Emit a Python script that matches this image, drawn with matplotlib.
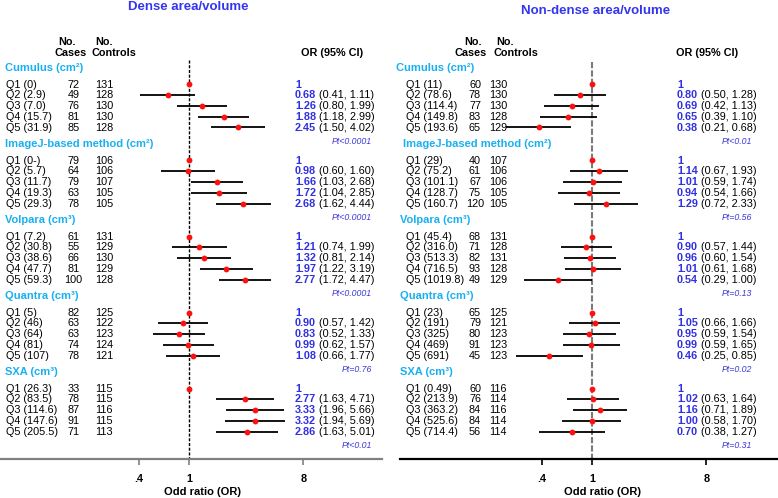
import numpy as np
import matplotlib
matplotlib.use("Agg")
import matplotlib.pyplot as plt
import matplotlib.transforms as mtransforms

plt.rcParams['font.family'] = ['Liberation Sans', 'DejaVu Sans']

# ---------------- data ----------------
groups = ["Cumulus (cm²)", "ImageJ-based method (cm²)", "Volpara (cm³)",
          "Quantra (cm³)", "SXA (cm³)"]

dense_q = [["Q1 (0)", "Q2 (2.9)", "Q3 (7.0)", "Q4 (15.7)", "Q5 (31.9)"],
           ["Q1 (0-)", "Q2 (5.7)", "Q3 (11.7)", "Q4 (19.3)", "Q5 (29.3)"],
           ["Q1 (7.2)", "Q2 (30.8)", "Q3 (38.6)", "Q4 (47.7)", "Q5 (59.3)"],
           ["Q1 (5)", "Q2 (46)", "Q3 (64)", "Q4 (81)", "Q5 (107)"],
           ["Q1 (26.3)", "Q2 (83.5)", "Q3 (114.6)", "Q4 (147.6)", "Q5 (205.5)"]]
dense_cases = [[72, 49, 76, 81, 85], [79, 64, 79, 63, 78], [61, 55, 66, 81, 100],
               [82, 63, 63, 74, 78], [33, 78, 87, 91, 71]]
dense_controls = [[131, 128, 130, 130, 128], [106, 106, 107, 105, 105],
                  [131, 129, 130, 129, 128], [125, 122, 123, 124, 121],
                  [115, 115, 116, 115, 113]]
dense_or = [[1, 0.68, 1.26, 1.88, 2.45], [1, 0.98, 1.66, 1.72, 2.68],
            [1, 1.21, 1.32, 1.97, 2.77], [1, 0.90, 0.83, 0.99, 1.08],
            [1, 2.77, 3.33, 3.32, 2.86]]
dense_lo = [[None, 0.41, 0.80, 1.18, 1.50], [None, 0.60, 1.03, 1.04, 1.62],
            [None, 0.74, 0.81, 1.22, 1.72], [None, 0.57, 0.52, 0.62, 0.66],
            [None, 1.63, 1.96, 1.94, 1.63]]
dense_hi = [[None, 1.11, 1.99, 2.99, 4.02], [None, 1.60, 2.68, 2.85, 4.44],
            [None, 1.99, 2.14, 3.19, 4.47], [None, 1.42, 1.33, 1.57, 1.77],
            [None, 4.71, 5.66, 5.69, 5.01]]
dense_pt = ["Pt<0.0001", "Pt<0.0001", "Pt<0.0001", "Pt=0.76", "Pt<0.01"]

nond_q = [["Q1 (11)", "Q2 (78.6)", "Q3 (114.4)", "Q4 (149.8)", "Q5 (193.6)"],
          ["Q1 (29)", "Q2 (75.2)", "Q3 (101.1)", "Q4 (128.7)", "Q5 (160.7)"],
          ["Q1 (45.4)", "Q2 (316.0)", "Q3 (513.3)", "Q4 (716.5)", "Q5 (1019.8)"],
          ["Q1 (23)", "Q2 (191)", "Q3 (325)", "Q4 (469)", "Q5 (691)"],
          ["Q1 (0.49)", "Q2 (213.9)", "Q3 (363.2)", "Q4 (525.6)", "Q5 (714.4)"]]
nond_cases = [[60, 78, 77, 83, 65], [40, 61, 67, 75, 120], [68, 71, 82, 93, 49],
              [65, 79, 80, 91, 45], [60, 76, 84, 84, 56]]
nond_controls = [[130, 130, 130, 128, 129], [107, 106, 106, 105, 105],
                 [131, 128, 131, 128, 129], [125, 121, 123, 123, 123],
                 [116, 114, 116, 114, 114]]
nond_or = [[1, 0.80, 0.69, 0.65, 0.38], [1, 1.14, 1.01, 0.94, 1.29],
           [1, 0.90, 0.96, 1.01, 0.54], [1, 1.05, 0.95, 0.99, 0.46],
           [1, 1.02, 1.16, 1.00, 0.70]]
nond_lo = [[None, 0.50, 0.42, 0.39, 0.21], [None, 0.67, 0.59, 0.54, 0.72],
           [None, 0.57, 0.60, 0.61, 0.29], [None, 0.66, 0.59, 0.59, 0.25],
           [None, 0.63, 0.71, 0.58, 0.38]]
nond_hi = [[None, 1.28, 1.13, 1.10, 0.68], [None, 1.93, 1.74, 1.66, 2.33],
           [None, 1.44, 1.54, 1.68, 1.00], [None, 1.66, 1.54, 1.65, 0.85],
           [None, 1.64, 1.89, 1.70, 1.27]]
nond_pt = ["Pt<0.01", "Pt=0.56", "Pt=0.13", "Pt=0.02", "Pt=0.31"]

tick_vals = [0.4, 1, 8]
tick_labels = [".4", "1", "8"]

# ---------------- style ----------------
W, H = 778, 498
TITLE_C = '#3535f0'
HEAD_C = '#18b0f0'
OR_C = '#3030e0'
PT_C = '#3a3ad8'
FS = 7.8

fig = plt.figure(figsize=(W / 100, H / 100), dpi=100)
AXIS_Y = 459


def panel(x0, x1, one_px, title, title_y, q, cases, controls, ors, los, his, pts,
          cfg):
    ax = fig.add_axes([x0 / W, (H - AXIS_Y) / H, (x1 - x0) / W, AXIS_Y / H])
    ax.set_xscale('log')
    dec = 126.5
    ax.set_xlim(10 ** (-(one_px - x0) / dec), 10 ** ((x1 - one_px) / dec))
    ax.set_ylim(AXIS_Y, 0)
    ax.patch.set_alpha(0)
    for s in ['top', 'left', 'right']:
        ax.spines[s].set_visible(False)
    ax.spines['bottom'].set_color(cfg['axis_c'])
    ax.spines['bottom'].set_linewidth(1.6)
    ax.set_yticks([])
    ax.xaxis.set_minor_locator(matplotlib.ticker.NullLocator())
    ax.set_xticks(tick_vals)
    ax.set_xticklabels(tick_labels, fontweight='bold', fontsize=7.8)
    ax.tick_params(axis='x', length=4, width=1.2, color=cfg['axis_c'], pad=7)

    tr = mtransforms.blended_transform_factory(fig.transFigure, ax.transData)

    def T(xpx, y, s, **kw):
        kw.setdefault('fontsize', FS)
        kw.setdefault('va', 'center')
        ax.text(xpx / W, y, s, transform=tr, clip_on=False, **kw)

    # titles
    fig.text(cfg['title_cx'] / W, 1 - title_y / H, title, ha='center', va='center',
             fontsize=9.5, fontweight='bold', color=TITLE_C)
    T(cfg['no_cases_cx'], 42, "No.", ha='center', fontweight='bold')
    T(cfg['cases_hdr_cx'], 53, "Cases", ha='center', fontweight='bold')
    T(cfg['no_ctrl_x'], 42, "No.", ha='left', fontweight='bold')
    T(cfg['ctrl_hdr_x'], 53, "Controls", ha='left', fontweight='bold')
    T(cfg['or_hdr_cx'], 53, "OR (95% CI)", ha='center', fontweight='bold')

    ax.vlines(1, cfg['vline_top'], AXIS_Y, colors=cfg['vline_c'],
              linestyles=cfg['vline_ls'], linewidth=cfg['vline_lw'], zorder=1)

    for g in range(len(groups)):
        hy = 68 + 76 * g
        T(cfg['head_x'][g], hy, groups[g], ha='left', fontweight='bold',
          color=HEAD_C, fontsize=8.0)
        for i in range(5):
            y = hy + 16.5 + i * 10.75
            T(cfg['q_x'], y, q[g][i], ha='left')
            T(cfg['cases_cx'], y, str(cases[g][i]), ha='center')
            T(cfg['ctrl_cx'], y, str(controls[g][i]), ha='center')
            if los[g][i] is None:
                T(cfg['or_x'], y, "1", ha='left', fontweight='bold', color=OR_C)
            else:
                T(cfg['or_x'], y, f"{ors[g][i]:.2f}", ha='left', fontweight='bold',
                  color=OR_C)
                T(cfg['ci_x'], y, f"({los[g][i]:.2f}, {his[g][i]:.2f})", ha='left')
                ax.hlines(y, los[g][i], his[g][i], colors='black', linewidth=1.3,
                          zorder=2)
            ax.plot([ors[g][i]], [y], 'o', color='#ff1010', markersize=4.2,
                    markeredgewidth=0, zorder=3)
        T(cfg['pt_x'], hy + 16.5 + 4 * 10.75 + 13.5, pts[g], ha='right',
          style='italic', color=PT_C, fontsize=6.3)

    fig.text(cfg['xlabel_cx'] / W, 1 - 492 / H, "Odd ratio (OR)", ha='center',
             va='center', fontsize=8.0, fontweight='bold')
    return ax


left_cfg = dict(axis_c='#808080', title_cx=188, no_cases_cx=67, cases_hdr_cx=71,
                no_ctrl_x=95, ctrl_hdr_x=92, or_hdr_cx=332, vline_top=60,
                vline_c='black', vline_ls=(0, (2.2, 1.2)), vline_lw=1.0,
                head_x=[5, 5, 5, 5, 5], q_x=6, cases_cx=73.5, ctrl_cx=104,
                or_x=295, ci_x=319, pt_x=372, xlabel_cx=202)
right_cfg = dict(axis_c='black', title_cx=596, no_cases_cx=473, cases_hdr_cx=471,
                 no_ctrl_x=496, ctrl_hdr_x=494, or_hdr_cx=707, vline_top=62,
                 vline_c='#7a7a7a', vline_ls=(0, (3, 1)), vline_lw=1.5,
                 head_x=[396, 403, 400, 400, 400], q_x=406, cases_cx=475, ctrl_cx=498,
                 or_x=677, ci_x=701, pt_x=752, xlabel_cx=603)

panel(0, 382, 189, "Dense area/volume", 7, dense_q, dense_cases, dense_controls,
      dense_or, dense_lo, dense_hi, dense_pt, left_cfg)
panel(400, 778, 592, "Non-dense area/volume", 11, nond_q, nond_cases, nond_controls,
      nond_or, nond_lo, nond_hi, nond_pt, right_cfg)

fig.savefig("out.png", dpi=100)
